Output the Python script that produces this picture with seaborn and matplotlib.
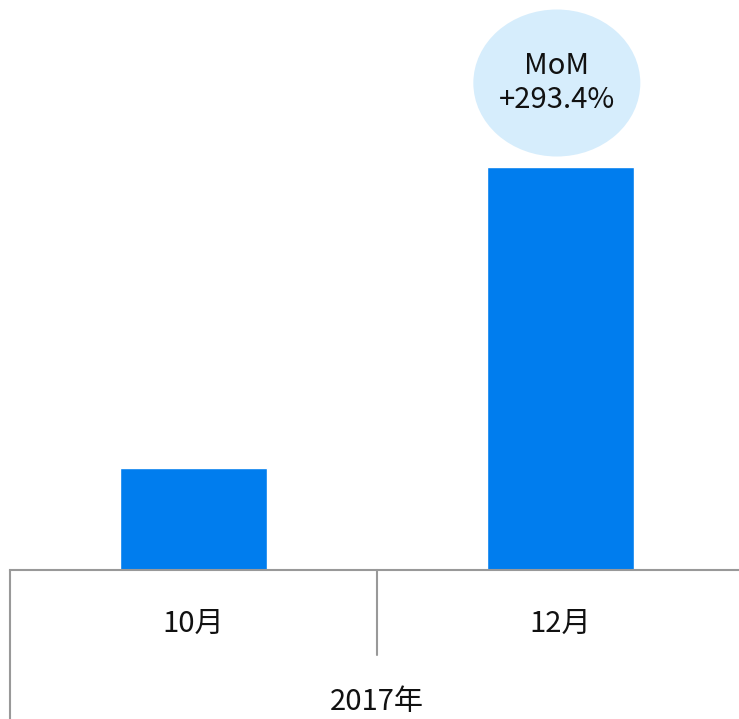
import matplotlib
matplotlib.use("Agg")
import pandas as pd
import seaborn as sns
import matplotlib.pyplot as plt
from matplotlib.patches import Ellipse
from matplotlib.transforms import blended_transform_factory

# data (relative bar heights)
months = ["10月", "12月"]
values = [1.0, 3.934]
year_label = "2017年"
mom_text = "MoM\n+293.4%"

sns.set_style("white")
plt.rcParams['font.family'] = ['Noto Sans CJK JP', 'DejaVu Sans']

df = pd.DataFrame({"month": months, "value": values})

W, H = 739, 719
fig = plt.figure(figsize=(W / 100, H / 100), dpi=100)
# axes spans x 10..744 px, y 0..570 px (from top)
ax = fig.add_axes([10 / W, 1 - 570 / H, 734 / W, 570 / H])

sns.barplot(data=df, x="month", y="value", color="#007dee", width=0.4,
            saturation=1, ax=ax)

ax.set_xlim(-0.5, 1.5)
ax.set_ylim(0, 570 / 102.5)
ax.set_xlabel("")
ax.set_ylabel("")
ax.set_yticks([])
ax.tick_params(axis="x", length=0, pad=28, labelsize=21, labelcolor="#111111")
for s in ["top", "right", "left"]:
    ax.spines[s].set_visible(False)
ax.spines["bottom"].set_color("#999999")
ax.spines["bottom"].set_linewidth(1.5)

# category separators below the axis
tr = blended_transform_factory(ax.transData, fig.transFigure)
ax.plot([-0.5, -0.5], [1 - 570 / H, 0], transform=tr, color="#999999",
        lw=1.5, clip_on=False)
ax.plot([0.5, 0.5], [1 - 570 / H, 1 - 655 / H], transform=tr, color="#999999",
        lw=1.5, clip_on=False)

fig.text(377 / W, 2 / H, year_label, ha="center", va="bottom",
         fontsize=21, color="#111111")

# MoM bubble
ecx, ecy = 0.99, (570 - 83) / 102.5
ax.add_patch(Ellipse((ecx, ecy), 167 / 367, 147 / 102.5, facecolor="#d6edfc",
                     edgecolor="none", clip_on=False))
ax.text(ecx, ecy, mom_text, ha="center", va="center", fontsize=21,
        color="#111111", linespacing=1.15)

fig.savefig("out.png", dpi=100)
